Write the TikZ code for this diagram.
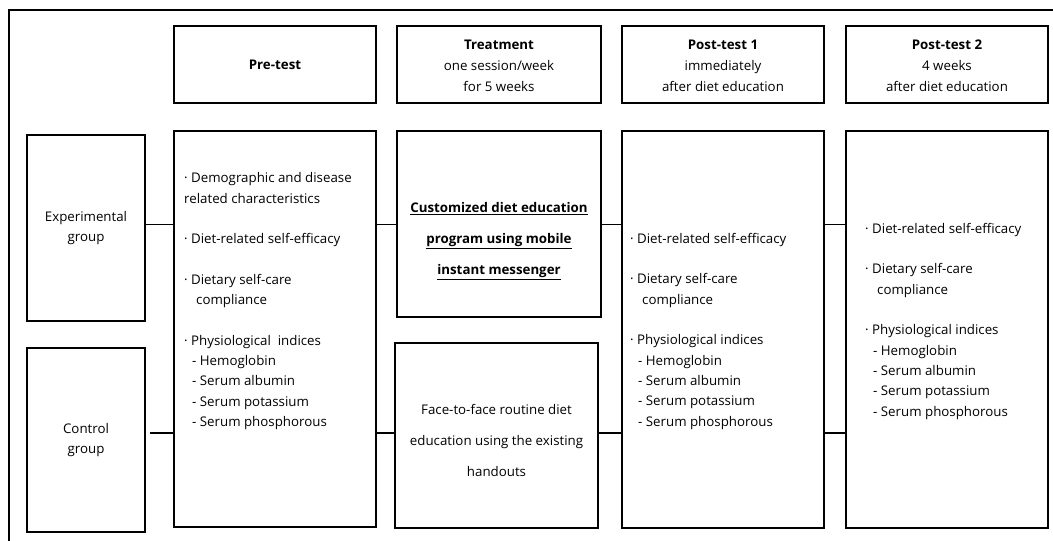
\documentclass[tikz,border=0pt]{standalone}
\usepackage{fontspec}
\setmainfont{Open Sans}
\begin{document}
\begin{tikzpicture}[x=1pt,y=-1pt,
  box/.style={draw,line width=1.8pt,inner sep=0pt,minimum width=202pt,align=center},
  conn/.style={line width=1.8pt},
  frame/.style={line width=1.8pt},
  txt/.style={font=\fontsize{13.3}{20.8}\selectfont},
  list/.style={font=\fontsize{13.3}{20.3}\selectfont,align=left,anchor=north west,inner sep=0pt}]
\useasboundingbox (0,0) rectangle (1053,541);
\fill[white] (0,0) rectangle (1053,541);
\coordinate (fb) at (9,545);
\coordinate (ft) at (9,10);
\coordinate (fr) at (1058,10);
\draw[frame] (fb) -- (ft) -- (fr);
% header boxes
\node[box,txt,minimum height=77pt] (hpre) at (275,64.5) {\textbf{Pre-test}};
\node[box,minimum width=204pt,minimum height=77pt] (htreat) at (499,64.5) {};
\node[txt,align=center,inner sep=0pt] (htreatt) at (499,66) {\textbf{Treatment}\\one session/week\\for 5 weeks};
\node[box,minimum height=77pt] (hpost1) at (723,64.5) {};
\node[txt,align=center,inner sep=0pt] (hpost1t) at (723,66) {\textbf{Post-test 1}\\immediately\\after diet education};
\node[box,minimum height=77pt] (hpost2) at (947,64.5) {};
\node[txt,align=center,inner sep=0pt] (hpost2t) at (947,66) {\textbf{Post-test 2}\\4 weeks\\after diet education};
% group boxes
\node[box,txt,minimum width=118pt,minimum height=186pt] (exp) at (86,228) {Experimental\\group};
\node[box,txt,minimum width=118pt,minimum height=184pt] (ctrl) at (86,440) {Control\\group};
% body boxes
\node[box,minimum height=396pt] (pre) at (275,329) {};
\node[box,minimum width=204pt,minimum height=186pt] (texp) at (499,224) {};
\node[txt,align=center,inner sep=0pt,font=\fontsize{13.3}{31}\selectfont\bfseries] (texpt) at (499,241) {\underline{Customized diet education}\\\underline{program using mobile}\\\underline{instant messenger}};
\node[box,minimum width=203pt,minimum height=185pt] (tctrl) at (496.5,435.5) {};
\node[txt,align=center,inner sep=0pt,font=\fontsize{13.3}{31}\selectfont] (tctrlt) at (496.5,440) {Face-to-face routine diet\\education using the existing\\handouts};
\node[box,minimum height=397pt] (post1) at (723,329.5) {};
\node[box,minimum height=397pt] (post2) at (947,329.5) {};
% list texts
\node[list] (tpre) at (184,172.5) {·~Demographic and disease\\related characteristics\\[20.3pt]
·~Diet-related self-efficacy\\[20.3pt]
·~Dietary self-care\\\hspace*{0.9em}compliance\\[20.3pt]
·~Physiological\ \ indices\\\hspace*{0.6em}-~Hemoglobin\\\hspace*{0.6em}-~Serum albumin\\\hspace*{0.6em}-~Serum potassium\\\hspace*{0.6em}-~Serum phosphorous};
\node[list] (tpost1) at (630,233) {·~Diet-related self-efficacy\\[20.3pt]
·~Dietary self-care\\\hspace*{0.9em}compliance\\[20.3pt]
·~Physiological indices\\\hspace*{0.6em}-~Hemoglobin\\\hspace*{0.6em}-~Serum albumin\\\hspace*{0.6em}-~Serum potassium\\\hspace*{0.6em}-~Serum phosphorous};
\node[list] (tpost2) at (865,223) {·~Diet-related self-efficacy\\[20.3pt]
·~Dietary self-care\\\hspace*{0.9em}compliance\\[20.3pt]
·~Physiological indices\\\hspace*{0.6em}-~Hemoglobin\\\hspace*{0.6em}-~Serum albumin\\\hspace*{0.6em}-~Serum potassium\\\hspace*{0.6em}-~Serum phosphorous};
% connectors
\coordinate (ra) at (0,224.5);
\coordinate (rb) at (0,433);
\draw[conn] (exp.east |- ra) -- (pre.west |- ra);
\draw[conn] (pre.east |- ra) -- (texp.west |- ra);
\draw[conn] (texp.east |- ra) -- (post1.west |- ra);
\draw[conn] (post1.east |- ra) -- (post2.west |- ra);
\draw[conn,shorten <=4pt] (ctrl.east |- rb) -- (pre.west |- rb);
\draw[conn] (pre.east |- rb) -- (tctrl.west |- rb);
\draw[conn] (tctrl.east |- rb) -- (post1.west |- rb);
\draw[conn] (post1.east |- rb) -- (post2.west |- rb);
\end{tikzpicture}
\end{document}
